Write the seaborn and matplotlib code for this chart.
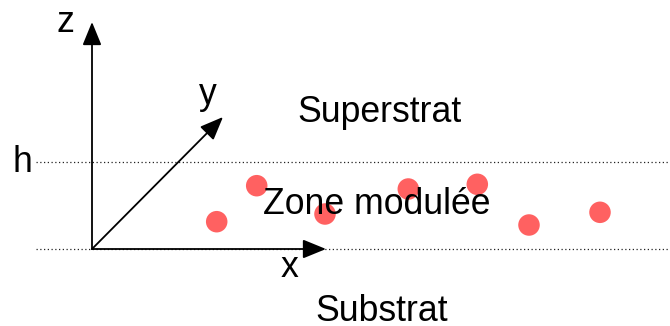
import matplotlib
matplotlib.use("Agg")
import matplotlib.pyplot as plt
import seaborn as sns
import pandas as pd

# Modulated-zone particles (x, z) in figure-pixel units relative to origin
dot_x = [124.7, 164.7, 233.0, 316.3, 385.3, 437.0, 508.0]
dot_z = [27.3, 63.3, 35.0, 60.0, 64.7, 24.0, 36.7]
h_level = 87
labels = ["Superstrat", "Zone modulée", "Substrat"]

sns.set_theme(style="white")
plt.rcParams['font.family'] = ['Liberation Sans', 'DejaVu Sans']
plt.rcParams['text.color'] = 'black'

fig = plt.figure(figsize=(6.7, 3.26), dpi=100)
ax = fig.add_axes([0, 0, 1, 1])
ax.set_xlim(-92, 578)
ax.set_ylim(-77, 249)
ax.axis('off')

# dotted reference lines
ax.plot([-56, 578], [h_level, h_level], linestyle=(0, (1, 2)), color='#222222', lw=0.9)
ax.plot([-56, 578], [0, 0], linestyle=(0, (1, 2)), color='#222222', lw=0.9)

df = pd.DataFrame({"x": dot_x, "z": dot_z})
sns.scatterplot(data=df, x="x", y="z", ax=ax, color="#ff6161", s=240,
                edgecolor='none', zorder=3, legend=False)

arrow = dict(arrowstyle='-|>,head_length=1.1,head_width=0.45', color='black',
             lw=1.3, shrinkA=0, shrinkB=0, mutation_scale=13)
ax.annotate('', xy=(0, 227), xytext=(0, 0), arrowprops=arrow, zorder=4)
ax.annotate('', xy=(234, 0), xytext=(0, 0), arrowprops=arrow, zorder=4)
ax.annotate('', xy=(131, 132), xytext=(0, 0), arrowprops=arrow, zorder=4)

fs = 25.7
ax.text(-27, 217, 'z', fontsize=fs, ha='center', va='baseline')
ax.text(116, 145, 'y', fontsize=fs, ha='center', va='baseline')
ax.text(-70, 77, 'h', fontsize=fs, ha='center', va='baseline')
ax.text(198, -28, 'x', fontsize=fs, ha='center', va='baseline')
ax.text(288, 127, labels[0], fontsize=fs, ha='center', va='baseline')
ax.text(285, 35, labels[1], fontsize=fs, ha='center', va='baseline', zorder=5)
ax.text(290, -72, labels[2], fontsize=fs, ha='center', va='baseline')

fig.savefig('out.png', dpi=100)
